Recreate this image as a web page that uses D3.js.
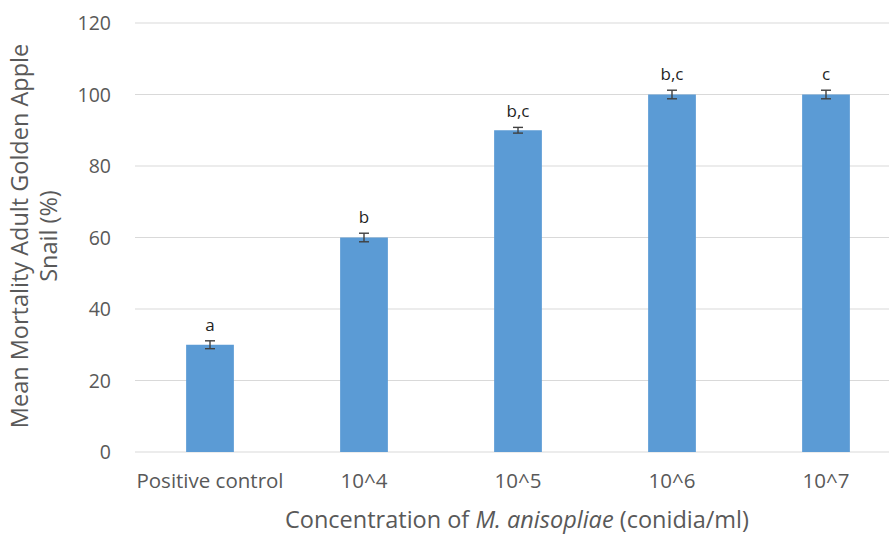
<!DOCTYPE html>
<html>
<head>
<meta charset="utf-8">
<script src="https://cdn.jsdelivr.net/npm/d3@7"></script>
<style>
  body { margin: 0; background: #fff; }
  svg { font-family: "Open Sans", "Liberation Sans", sans-serif; }
</style>
</head>
<body>
<svg width="889" height="535"></svg>
<script>
const categories = ['Positive control', '10^4', '10^5', '10^6', '10^7'];
const mortality = [30, 60, 90, 100, 100];
const errors = [1.1, 1.2, 0.8, 1.2, 1.2];
const groups = ['a', 'b', 'b,c', 'b,c', 'c'];
const yTicks = [0, 20, 40, 60, 80, 100, 120];

const svg = d3.select('svg');
const plotLeft = 133, plotRight = 903, plotTop = 23, plotBottom = 452;

const x = d3.scaleBand()
  .domain(categories)
  .range([plotLeft, plotRight])
  .paddingInner(0.69)
  .paddingOuter(0.345);

const y = d3.scaleLinear()
  .domain([0, 120])
  .range([plotBottom, plotTop]);

// gridlines
svg.append('g')
  .selectAll('line')
  .data(yTicks)
  .enter()
  .append('line')
  .attr('x1', 135)
  .attr('x2', 889)
  .attr('y1', d => y(d))
  .attr('y2', d => y(d))
  .attr('stroke', '#d9d9d9')
  .attr('stroke-width', 1.2);

// y tick labels
svg.append('g')
  .selectAll('text')
  .data(yTicks)
  .enter()
  .append('text')
  .attr('x', 111)
  .attr('y', d => y(d))
  .attr('dy', '0.36em')
  .attr('text-anchor', 'end')
  .attr('font-size', '19.5px')
  .attr('fill', '#595959')
  .text(d => d);

// bars
svg.append('g')
  .selectAll('rect')
  .data(categories)
  .enter()
  .append('rect')
  .attr('x', d => x(d))
  .attr('y', (d, i) => y(mortality[i]))
  .attr('width', x.bandwidth())
  .attr('height', (d, i) => y(0) - y(mortality[i]))
  .attr('fill', '#5b9bd5');

// error bars
const eb = svg.append('g')
  .attr('stroke', '#404040')
  .attr('stroke-width', 1.4);
categories.forEach((c, i) => {
  const cx = x(c) + x.bandwidth() / 2;
  const hi = y(mortality[i] + errors[i]);
  const lo = y(mortality[i] - errors[i]);
  eb.append('line').attr('x1', cx).attr('x2', cx).attr('y1', hi).attr('y2', lo);
  eb.append('line').attr('x1', cx - 5).attr('x2', cx + 5).attr('y1', hi).attr('y2', hi);
  eb.append('line').attr('x1', cx - 5).attr('x2', cx + 5).attr('y1', lo).attr('y2', lo);
});

// significance letters
svg.append('g')
  .selectAll('text')
  .data(categories)
  .enter()
  .append('text')
  .attr('x', d => x(d) + x.bandwidth() / 2)
  .attr('y', (d, i) => y(mortality[i] + errors[i]) - 10)
  .attr('text-anchor', 'middle')
  .attr('font-size', '17px')
  .attr('font-weight', 500)
  .attr('fill', '#1f1f1f')
  .text((d, i) => groups[i]);

// x tick labels
svg.append('g')
  .selectAll('text')
  .data(categories)
  .enter()
  .append('text')
  .attr('x', d => x(d) + x.bandwidth() / 2)
  .attr('y', 488)
  .attr('text-anchor', 'middle')
  .attr('font-size', '20.5px')
  .attr('fill', '#595959')
  .text(d => d);

// x axis title
const xt = svg.append('text')
  .attr('x', 517)
  .attr('y', 528)
  .attr('text-anchor', 'middle')
  .attr('font-size', '23.5px')
  .attr('fill', '#595959');
xt.append('tspan').text('Concentration of ');
xt.append('tspan').attr('font-style', 'italic').text('M. anisopliae');
xt.append('tspan').text(' (conidia/ml)');

// y axis title
const yt = svg.append('text')
  .attr('transform', 'translate(28, 236) rotate(-90)')
  .attr('text-anchor', 'middle')
  .attr('font-size', '23.5px')
  .attr('fill', '#595959');
yt.append('tspan').attr('x', 0).attr('dy', 0).text('Mean Mortality Adult Golden Apple');
yt.append('tspan').attr('x', 0).attr('dy', 29).text('Snail (%)');
</script>
</body>
</html>
